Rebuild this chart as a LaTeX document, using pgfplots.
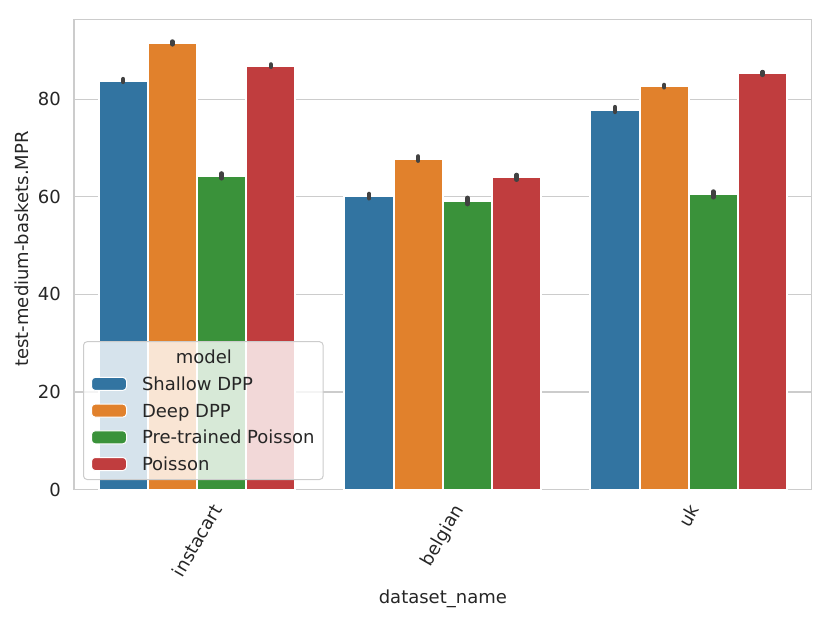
\documentclass[border=0pt]{standalone}
\usepackage{fontspec}
\setmainfont{DejaVu Sans}
\usepackage{graphicx}
\usepackage{pgfplots}
\usepackage{pgfplotstable}
\pgfplotsset{compat=1.18}
\definecolor{c1}{HTML}{3274A1}
\definecolor{c2}{HTML}{E1812C}
\definecolor{c3}{HTML}{3A923A}
\definecolor{c4}{HTML}{C03D3E}
\definecolor{gridc}{HTML}{CCCCCC}
\definecolor{txt}{HTML}{262626}
\definecolor{errc}{HTML}{424242}
\newcommand\myfont{\fontsize{18bp}{21.6bp}\selectfont}
\pgfplotsset{
  patchlegend/.style={legend image code/.code={\draw[##1,fill opacity=1,draw opacity=1,draw=white,line width=1bp] (0bp,-6.5bp) rectangle (35bp,6.5bp);}},
  errs/.style={error bars/.cd, y dir=both, y explicit, error mark=none,
    error bar style={line width=4.4bp, color=errc, line cap=round}}
}
% x = category index (0 instacart, 1 belgian, 2 uk) shifted by the bar offset
\pgfplotstableread{
x y e
-0.3 83.85 0.30
0.7 60.15 0.45
1.7 77.90 0.50
}\shallow
\pgfplotstableread{
x y e
-0.1 91.55 0.30
0.9 67.85 0.45
1.9 82.70 0.25
}\deep
\pgfplotstableread{
x y e
0.1 64.30 0.50
1.1 59.15 0.65
2.1 60.50 0.60
}\pretrained
\pgfplotstableread{
x y e
0.3 86.90 0.25
1.3 64.00 0.50
2.3 85.30 0.30
}\poisson
\begin{document}
\begin{tikzpicture}
\begin{axis}[
  at={(0,0)}, anchor=south west,
  width=737.7bp, height=470.2bp, scale only axis,
  xmin=-0.5, xmax=2.5, ymin=0, ymax=96.4,
  ybar, bar width=0.2, bar shift=0pt,
  xtick={0,1,2},
  xticklabels={\rotatebox{60}{instacart},\rotatebox{60}{belgian},\rotatebox{60}{uk}},
  ytick={0,20,40,60,80},
  major tick length=0pt,
  ymajorgrids, grid style={gridc, line width=1.3bp},
  axis line style={gridc, line width=1.3bp},
  tick label style={font=\myfont, text=txt},
  xticklabel style={anchor=north, inner sep=0pt, yshift=-13bp},
  yticklabel style={anchor=east, inner sep=0pt, xshift=-13bp},
  /pgf/number format/assume math mode=true,
  xlabel={dataset\_name}, ylabel={test-medium-baskets.MPR},
  label style={font=\myfont, text=txt},
  xlabel style={at={(axis description cs:0.5,0)}, anchor=base, yshift=-113.5bp},
  ylabel style={at={(axis description cs:-0.0705,0.5115)}, anchor=center},
  legend cell align=left,
  legend style={at={(axis description cs:0.0122,0.0202)}, anchor=south west,
    fill=white, fill opacity=0.8, draw opacity=1, text opacity=1,
    draw=gridc, line width=1bp, rounded corners=3.6bp,
    font=\myfont, text=txt,
    inner xsep=7.5bp, inner ysep=4bp, row sep=3.7bp, column sep=14bp,
    nodes={inner sep=1bp, text height=17bp, text depth=4bp}},
]
\addlegendimage{empty legend}
\addlegendentry{\hspace*{33.8bp}model}
\addplot[fill=c1, draw=white, line width=2bp, patchlegend, errs] table[x=x,y=y,y error=e]{\shallow};
\addlegendentry{Shallow DPP}
\addplot[fill=c2, draw=white, line width=2bp, patchlegend, errs] table[x=x,y=y,y error=e]{\deep};
\addlegendentry{Deep DPP}
\addplot[fill=c3, draw=white, line width=2bp, patchlegend, errs] table[x=x,y=y,y error=e]{\pretrained};
\addlegendentry{Pre-trained Poisson}
\addplot[fill=c4, draw=white, line width=2bp, patchlegend, errs] table[x=x,y=y,y error=e]{\poisson};
\addlegendentry{Poisson}
\end{axis}
\pgfresetboundingbox
\path[use as bounding box] (-74bp,-130.5bp) rectangle (757bp,489.5bp);
\end{tikzpicture}
\end{document}
